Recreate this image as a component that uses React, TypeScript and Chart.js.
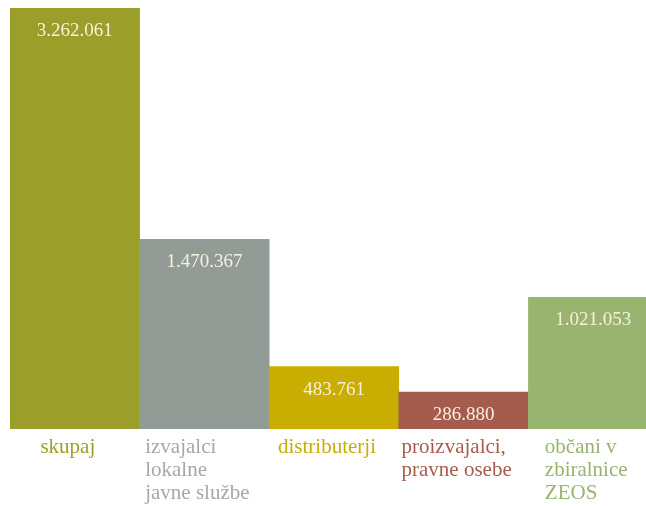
import React, { useEffect, useRef } from "react";
import { Chart, registerables } from "chart.js";

Chart.register(...registerables);

const categories: string[][] = [
  ["skupaj"],
  ["izvajalci", "lokalne", "javne službe"],
  ["distributerji"],
  ["proizvajalci,", "pravne osebe"],
  ["občani v", "zbiralnice", "ZEOS"],
];
const values: number[] = [3262061, 1470367, 483761, 286880, 1021053];
const valueLabels: string[] = ["3.262.061", "1.470.367", "483.761", "286.880", "1.021.053"];
const barColors: string[] = ["#9c9e2a", "#939b96", "#c9ad00", "#a55c4c", "#98b46f"];
const labelColors: string[] = ["#9c9e2a", "#a3aaa6", "#c9ad00", "#a55c4c", "#98b46f"];

const FONT = "'Liberation Serif', serif";
const W = 646;
const H = 506;
const PAD_LEFT = 10;

const labelPlugin = {
  id: "customLabels",
  afterDatasetsDraw(chart: any) {
    const ctx = chart.ctx;
    const meta = chart.getDatasetMeta(0);
    const area = chart.chartArea;
    ctx.save();
    meta.data.forEach((bar: any, i: number) => {
      ctx.font = `19px ${FONT}`;
      ctx.fillStyle = "#f6f1dc";
      ctx.textAlign = "center";
      ctx.textBaseline = "alphabetic";
      ctx.fillText(valueLabels[i], bar.x, bar.y + 28);
      ctx.font = `21px ${FONT}`;
      ctx.fillStyle = labelColors[i];
      ctx.textAlign = "left";
      const lines = categories[i];
      const w = Math.max(...lines.map((l) => ctx.measureText(l).width));
      const x0 = bar.x - w / 2 - 7;
      lines.forEach((l, j) => {
        ctx.fillText(l, x0, area.bottom + 24 + j * 23);
      });
    });
    ctx.restore();
  },
};

export default function App() {
  const ref = useRef<HTMLCanvasElement>(null);
  useEffect(() => {
    document.body.style.margin = "0";
    document.body.style.overflow = "hidden";
    if (!ref.current) return;
    // each bar ~129.6px wide; the last bar runs past the right edge
    const xMax = -0.5 + (W - PAD_LEFT) / 129.6;
    const chart = new Chart(ref.current, {
      type: "bar",
      data: {
        datasets: [
          {
            data: values.map((v, i) => ({ x: i, y: v })),
            backgroundColor: barColors,
            borderWidth: 0,
            categoryPercentage: 1,
            barPercentage: 1,
            barThickness: "flex",
          },
        ],
      },
      options: {
        animation: false,
        responsive: false,
        maintainAspectRatio: false,
        layout: { padding: { left: PAD_LEFT, top: 8, right: 0, bottom: 77 } },
        plugins: { legend: { display: false }, tooltip: { enabled: false } },
        scales: {
          x: { type: "linear", display: false, offset: false, min: -0.5, max: xMax },
          y: { display: false, min: 0, max: 3262061 },
        },
      },
      plugins: [labelPlugin],
    });
    return () => chart.destroy();
  }, []);
  return (
    <div style={{ width: W, height: H }}>
      <canvas ref={ref} width={W} height={H} style={{ width: W, height: H, display: "block" }} />
    </div>
  );
}
